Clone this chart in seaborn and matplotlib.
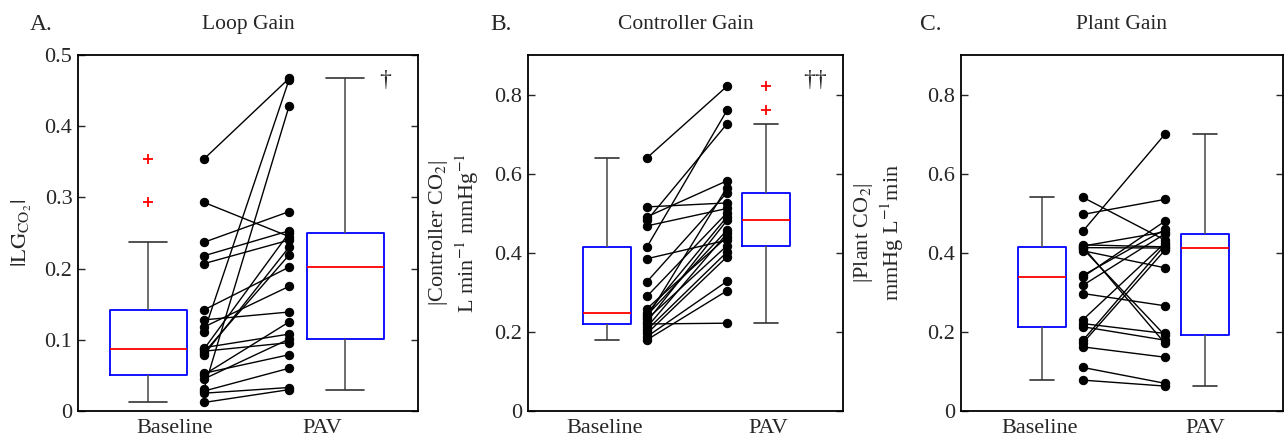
import matplotlib
matplotlib.use("Agg")
import matplotlib.pyplot as plt
import seaborn as sns
import pandas as pd

# paired values, one entry per subject (same order in baseline and PAV lists)
loop_baseline = [0.354, 0.293, 0.237, 0.218, 0.207, 0.111, 0.031,
                 0.012, 0.025, 0.028, 0.045, 0.051, 0.053, 0.079,
                 0.082, 0.084, 0.087, 0.089, 0.118, 0.128, 0.142]
loop_pav = [0.467, 0.245, 0.280, 0.253, 0.240, 0.465, 0.428,
            0.030, 0.033, 0.060, 0.101, 0.125, 0.079, 0.230,
            0.219, 0.096, 0.250, 0.108, 0.175, 0.139, 0.202]

ctrl_baseline = [0.640, 0.516, 0.491, 0.482, 0.468, 0.415, 0.385,
                 0.327, 0.290, 0.259, 0.247, 0.242, 0.237, 0.232,
                 0.226, 0.220, 0.212, 0.205, 0.196, 0.188, 0.180]
ctrl_pav = [0.821, 0.526, 0.582, 0.726, 0.512, 0.760, 0.432,
            0.552, 0.501, 0.440, 0.491, 0.457, 0.565, 0.418,
            0.482, 0.222, 0.449, 0.402, 0.390, 0.328, 0.304]

plant_baseline = [0.540, 0.497, 0.455, 0.420, 0.417, 0.415, 0.413,
                  0.410, 0.405, 0.343, 0.339, 0.318, 0.297, 0.231,
                  0.221, 0.213, 0.179, 0.172, 0.162, 0.110, 0.078]
plant_pav = [0.432, 0.535, 0.700, 0.415, 0.453, 0.171, 0.412,
             0.191, 0.362, 0.459, 0.480, 0.448, 0.266, 0.425,
             0.196, 0.179, 0.420, 0.407, 0.136, 0.070, 0.063]

conditions = ["Baseline", "PAV"]
titles = ["Loop Gain", "Controller Gain", "Plant Gain"]
letters = ["A.", "B.", "C."]
ylabels = [r"$|\mathrm{LG}_{\mathrm{CO}_2}|$",
           "|Controller CO$_2$|\nL min$^{-1}$ mmHg$^{-1}$",
           "|Plant CO$_2$|\nmmHg L$^{-1}$min"]
yticks_loop = [0, 0.1, 0.2, 0.3, 0.4, 0.5]
yticklabels_loop = ["0", "0.1", "0.2", "0.3", "0.4", "0.5"]
yticks_gain = [0, 0.2, 0.4, 0.6, 0.8]
yticklabels_gain = ["0", "0.2", "0.4", "0.6", "0.8"]
markers = ["\u2020", "\u2020\u2020", ""]

sns.set_style("ticks")
plt.rcParams["font.family"] = ["Liberation Serif", "DejaVu Serif"]
plt.rcParams["mathtext.fontset"] = "stix"
plt.rcParams["axes.linewidth"] = 1.3

W, H = 1285, 440
fig = plt.figure(figsize=(W / 100, H / 100), dpi=100)

# layout (pixels): axes left/right, box centres, dot columns, label centres
panels = [
    dict(base=loop_baseline, pav=loop_pav, left=78, right=418, box=(148, 345), boxw=77,
         dots=(204, 289), lab=(175, 322), ylim=0.5, yt=yticks_loop, ytl=yticklabels_loop,
         ylab_x=22, letter_x=30, mark=(385, 80)),
    dict(base=ctrl_baseline, pav=ctrl_pav, left=528, right=843, box=(607, 766), boxw=48,
         dots=(647, 727), lab=(605, 768), ylim=0.9, yt=yticks_gain, ytl=yticklabels_gain,
         ylab_x=454, letter_x=490, mark=(815, 80)),
    dict(base=plant_baseline, pav=plant_pav, left=961, right=1283, box=(1042, 1205), boxw=48,
         dots=(1083, 1165), lab=(1040, 1205), ylim=0.9, yt=yticks_gain, ytl=yticklabels_gain,
         ylab_x=879, letter_x=920, mark=None),
]
top_px, bottom_px = 55, 411

for i, p in enumerate(panels):
    ax = fig.add_axes([p["left"] / W, 1 - bottom_px / H,
                       (p["right"] - p["left"]) / W, (bottom_px - top_px) / H])
    w = p["right"] - p["left"]
    fx = lambda px: (px - p["left"]) / w

    n = len(p["base"])
    df = pd.DataFrame({
        "subject": list(range(n)) * 2,
        "cond": [conditions[0]] * n + [conditions[1]] * n,
        "value": p["base"] + p["pav"],
    })
    df["box_x"] = df["cond"].map({conditions[0]: fx(p["box"][0]), conditions[1]: fx(p["box"][1])})
    df["dot_x"] = df["cond"].map({conditions[0]: fx(p["dots"][0]), conditions[1]: fx(p["dots"][1])})

    spacing = fx(p["box"][1]) - fx(p["box"][0])
    sns.boxplot(data=df, x="box_x", y="value", native_scale=True, orient="x",
                width=(p["boxw"] / w) / spacing, fill=False, whis=1.5, linewidth=1.2,
                boxprops=dict(color="#0000ff", linewidth=1.3),
                medianprops=dict(color="#ff0000", linewidth=1.3),
                whiskerprops=dict(color="#555555", linewidth=1.2),
                capprops=dict(color="#333333", linewidth=1.2),
                flierprops=dict(marker="+", markeredgecolor="#ff0000", markersize=7,
                                markeredgewidth=1.3),
                ax=ax)

    sns.lineplot(data=df, x="dot_x", y="value", units="subject", estimator=None,
                 color="black", linewidth=1.0, marker="o", markersize=6,
                 markeredgecolor="black", legend=False, sort=False, ax=ax)

    ax.set_xlim(0, 1)
    ax.set_ylim(0, p["ylim"])
    ax.set_yticks(p["yt"])
    ax.set_yticklabels(p["ytl"], fontsize=16)
    ax.set_xticks([fx(p["lab"][0]), fx(p["lab"][1])])
    ax.set_xticklabels(conditions, fontsize=16)
    ax.tick_params(axis="y", direction="in", right=True, length=5, width=1, pad=4)
    ax.tick_params(axis="x", length=0, pad=6)
    ax.set_xlabel("")
    ax.set_ylabel("")
    for s in ax.spines.values():
        s.set_visible(True)
        s.set_color("black")

    ax.set_title(titles[i], fontsize=15.5, pad=19)
    fig.text(p["letter_x"] / W, 1 - 24 / H, letters[i], fontsize=17, ha="left", va="center")
    fig.text(p["ylab_x"] / W, 1 - 233 / H, ylabels[i], fontsize=16, rotation=90,
             ha="center", va="center", multialignment="center")
    if markers[i]:
        fig.text(p["mark"][0] / W, 1 - p["mark"][1] / H, markers[i], fontsize=17,
                 ha="center", va="center")

fig.savefig("out.png", dpi=100)
